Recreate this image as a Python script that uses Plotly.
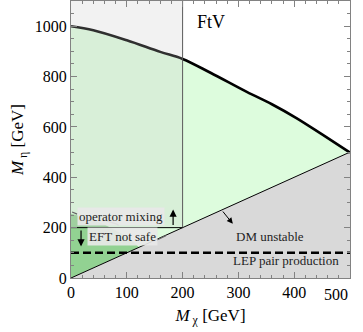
import plotly.graph_objects as go

# ---- data ----
curve_x = [0, 40, 100, 160, 200, 250, 315, 360, 404, 450, 500]
curve_y = [1000, 984, 944, 898, 870, 815, 739, 690, 635, 570, 498]

mix_x = [0, 30, 60, 90, 110, 122]
mix_y = [255, 238, 212, 177, 147, 122]

x_ticks = [0, 100, 200, 300, 400, 500]
y_ticks = [0, 200, 400, 600, 800, 1000]

x_max = 500
y_max = 1100
eft_cut = 200
lep_limit = 100

FONT = "Liberation Serif, Times New Roman, serif"

fig = go.Figure()

# light green allowed region (between diagonal and curve)
fig.add_trace(go.Scatter(
    x=curve_x + [x_max, 0], y=curve_y + [x_max, 0],
    fill="toself", fillcolor="rgb(221,252,221)", line=dict(width=0),
    mode="lines", hoverinfo="skip", showlegend=False))

# dark green region
fig.add_trace(go.Scatter(
    x=[0] + mix_x[::-1] + [0], y=[0] + mix_y[::-1] + [0],
    fill="toself", fillcolor="rgb(146,210,146)", line=dict(width=0),
    mode="lines", hoverinfo="skip", showlegend=False))

# DM unstable triangle
fig.add_trace(go.Scatter(
    x=[0, x_max, x_max, 0], y=[0, x_max, 0, 0],
    fill="toself", fillcolor="rgb(217,217,217)", line=dict(width=0),
    mode="lines", hoverinfo="skip", showlegend=False))

# diagonal
fig.add_trace(go.Scatter(x=[0, x_max], y=[0, x_max], mode="lines",
                         line=dict(color="black", width=1), hoverinfo="skip", showlegend=False))

# main curve
fig.add_trace(go.Scatter(x=curve_x, y=curve_y, mode="lines",
                         line=dict(color="black", width=2.6, shape="spline"),
                         hoverinfo="skip", showlegend=False))

# EFT overlay (x < 200, y > 200)
fig.add_trace(go.Scatter(
    x=[0, eft_cut, eft_cut, 0, 0], y=[eft_cut, eft_cut, y_max, y_max, eft_cut],
    fill="toself", fillcolor="rgba(200,200,200,0.24)", line=dict(width=0),
    mode="lines", hoverinfo="skip", showlegend=False))

# vertical and horizontal boundaries
fig.add_trace(go.Scatter(x=[eft_cut, eft_cut], y=[eft_cut, y_max], mode="lines",
                         line=dict(color="rgb(90,90,90)", width=1), hoverinfo="skip", showlegend=False))
fig.add_trace(go.Scatter(x=[0, eft_cut], y=[eft_cut, eft_cut], mode="lines",
                         line=dict(color="black", width=1), hoverinfo="skip", showlegend=False))

# LEP dashed line
fig.add_trace(go.Scatter(x=[0, x_max], y=[lep_limit, lep_limit], mode="lines",
                         line=dict(color="black", width=2.6, dash="8px,4px"),
                         hoverinfo="skip", showlegend=False))

LBL = dict(family=FONT, size=13, color="rgb(30,30,30)")
annotations = [
    dict(x=251, y=1018, text="FtV", showarrow=False,
         font=dict(family=FONT, size=18, color="black")),
    dict(x=357, y=164, text="DM unstable", showarrow=False, font=LBL),
    dict(x=386, y=71, text="LEP pair production", showarrow=False, font=LBL),
    dict(x=90, y=244, text="operator mixing", showarrow=False,
         bgcolor="rgba(232,232,232,0.92)", borderpad=1, font=LBL),
    dict(x=92, y=165, text="EFT not safe", showarrow=False,
         bgcolor="rgba(232,232,232,0.92)", borderpad=1, font=LBL),
    # last x tick label, kept inside the figure
    dict(x=x_ticks[-1], y=0, xref="x", yref="paper", text=str(x_ticks[-1]),
         xanchor="right", yanchor="top", yshift=-6, showarrow=False,
         font=dict(family=FONT, size=16, color="black")),
    # arrows
    dict(x=18, y=125, ax=18, ay=195, xref="x", yref="y", axref="x", ayref="y",
         text="", showarrow=True, arrowhead=2, arrowsize=1.2, arrowwidth=1.2, arrowcolor="black"),
    dict(x=183, y=272, ax=183, ay=205, xref="x", yref="y", axref="x", ayref="y",
         text="", showarrow=True, arrowhead=2, arrowsize=1.2, arrowwidth=1.2, arrowcolor="black"),
    dict(x=290, y=215, ax=270, ay=270, xref="x", yref="y", axref="x", ayref="y",
         text="", showarrow=True, arrowhead=2, arrowsize=1.2, arrowwidth=1.0, arrowcolor="black"),
]

# label leader lines
leaders = [((2, 262), (11, 254)), ((64, 227), (85, 212)), ((154, 151), (170, 168))]
shapes = [dict(type="line", xref="x", yref="y", x0=a[0], y0=a[1], x1=b[0], y1=b[1],
               line=dict(color="rgb(100,100,100)", width=1.3)) for a, b in leaders]

axis_common = dict(
    showgrid=False, zeroline=False, showline=True, linecolor="rgb(130,130,130)", linewidth=1,
    mirror="allticks", ticks="inside", ticklen=6, tickcolor="rgb(130,130,130)", tickwidth=1,
    tickfont=dict(family=FONT, size=16, color="black"), automargin=False,
)

fig.update_layout(
    width=363, height=332,
    margin=dict(l=71, r=13, t=1, b=54),
    paper_bgcolor="white", plot_bgcolor="white",
    annotations=annotations, shapes=shapes,
    xaxis=dict(range=[0, x_max], tickvals=x_ticks,
               ticktext=[str(v) for v in x_ticks[:-1]] + [""],
               minor=dict(dtick=20, ticks="inside", ticklen=3, tickcolor="rgb(130,130,130)"),
               title=dict(text="<i>M</i><sub> χ</sub> [GeV]", font=dict(family=FONT, size=17, color="black"),
                          standoff=8),
               **axis_common),
    yaxis=dict(range=[0, y_max], tickvals=y_ticks,
               minor=dict(dtick=50, ticks="inside", ticklen=3, tickcolor="rgb(130,130,130)"),
               title=dict(text="<i>M</i><sub> η</sub> [GeV]", font=dict(family=FONT, size=17, color="black"),
                          standoff=6),
               **axis_common),
)

fig.write_html("out.html", config={"displayModeBar": False},
               post_script="document.body.style.margin='0';document.body.style.overflow='hidden';")
